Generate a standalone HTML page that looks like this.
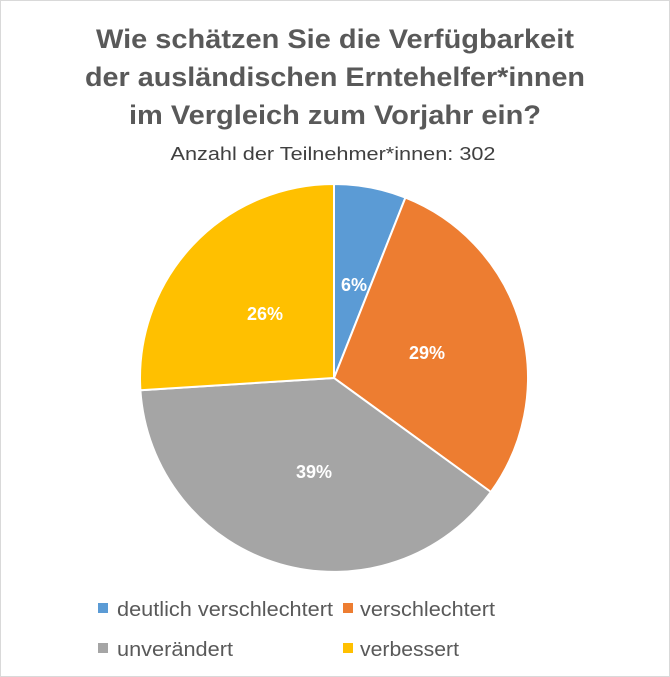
<!DOCTYPE html>
<html><head><meta charset="utf-8"><style>
html,body{margin:0;padding:0;background:#fff}
svg{display:block}
text{font-family:"Liberation Sans",sans-serif}
</style></head><body>
<svg width="670" height="677" viewBox="0 0 670 677" xmlns="http://www.w3.org/2000/svg">
<rect x="0.5" y="0.5" width="669" height="676" fill="#fff" stroke="#d9d9d9"/>
<g fill="#595959" font-weight="bold" font-size="27" text-anchor="middle">
<text x="335" y="48" textLength="478" lengthAdjust="spacingAndGlyphs">Wie schätzen Sie die Verfügbarkeit</text>
<text x="335" y="86" textLength="500" lengthAdjust="spacingAndGlyphs">der ausländischen Erntehelfer*innen</text>
<text x="335" y="124" textLength="412" lengthAdjust="spacingAndGlyphs">im Vergleich zum Vorjahr ein?</text>
</g>
<text x="333" y="160" fill="#404040" font-size="18" text-anchor="middle" textLength="325" lengthAdjust="spacingAndGlyphs">Anzahl der Teilnehmer*innen: 302</text>
<g stroke="#fff" stroke-width="2" stroke-linejoin="round">
<path d="M334,378 L334,184 A194,194 0 0 1 405.4,197.6 Z" fill="#5b9bd5"/>
<path d="M334,378 L405.4,197.6 A194,194 0 0 1 490.9,492 Z" fill="#ed7d31"/>
<path d="M334,378 L490.9,492 A194,194 0 0 1 140.4,390.2 Z" fill="#a5a5a5"/>
<path d="M334,378 L140.4,390.2 A194,194 0 0 1 334,184 Z" fill="#ffc000"/>
</g>
<g fill="#fff" font-weight="bold" font-size="18" text-anchor="middle">
<text x="354" y="291">6%</text>
<text x="427" y="359">29%</text>
<text x="314" y="478">39%</text>
<text x="265" y="320">26%</text>
</g>
<g font-size="20" fill="#595959">
<rect x="98" y="603" width="10" height="10" fill="#5b9bd5"/>
<text x="117" y="616" textLength="216" lengthAdjust="spacingAndGlyphs">deutlich verschlechtert</text>
<rect x="343" y="603" width="10" height="10" fill="#ed7d31"/>
<text x="360" y="616" textLength="135" lengthAdjust="spacingAndGlyphs">verschlechtert</text>
<rect x="98" y="643" width="10" height="10" fill="#a5a5a5"/>
<text x="117" y="656" textLength="116" lengthAdjust="spacingAndGlyphs">unverändert</text>
<rect x="343" y="643" width="10" height="10" fill="#ffc000"/>
<text x="360" y="656" textLength="99" lengthAdjust="spacingAndGlyphs">verbessert</text>
</g>
</svg>
</body></html>
